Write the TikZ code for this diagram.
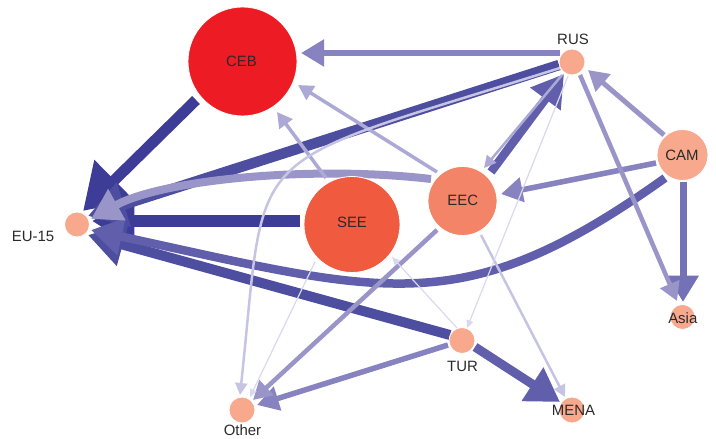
\documentclass[tikz,border=0pt]{standalone}
\usepackage{fontspec}
\setmainfont{Liberation Sans}
\usetikzlibrary{arrows.meta,calc,backgrounds}
\definecolor{cA}{HTML}{3D3D97}
\definecolor{cB}{HTML}{4E4EA0}
\definecolor{cC}{HTML}{615EAB}
\definecolor{cD}{HTML}{7471B6}
\definecolor{cE}{HTML}{8783C1}
\definecolor{cF}{HTML}{9995C9}
\definecolor{cG}{HTML}{ACA9D6}
\definecolor{cH}{HTML}{C6C4E3}
\definecolor{cI}{HTML}{DAD8EE}
\definecolor{nCEB}{HTML}{ED1C24}
\definecolor{nSEE}{HTML}{F05A3E}
\definecolor{nEEC}{HTML}{F48467}
\definecolor{nSm}{HTML}{F8A98D}
\definecolor{txt}{HTML}{2A2A2A}
\begin{document}
\begin{tikzpicture}[x=1bp,y=-1bp,
  nd/.style={circle,draw=white,line width=0.8bp,inner sep=0pt,fill=#1},
  lab/.style={font=\fontsize{15}{18}\selectfont,text=txt,inner sep=0pt,anchor=base},
  ed/.style={line width=#1,-{Triangle[length=4bp 3.2,width=2bp 4]}},
  bighead/.style={-{Triangle[length=44bp,width=54bp]}}]
\useasboundingbox (0,0) rectangle (716,439);
% nodes
\node[nd=nCEB,minimum size=109bp] (CEB) at (242.5,61.5) {};
\node[nd=nSEE,minimum size=96bp] (SEE) at (352,224.5) {};
\node[nd=nEEC,minimum size=69bp] (EEC) at (462.5,201) {};
\node[nd=nSm,minimum size=26bp] (RUS) at (572,62) {};
\node[nd=nSm,minimum size=51bp] (CAM) at (682.5,155) {};
\node[nd=nSm,minimum size=25bp] (EU) at (77,224.5) {};
\node[nd=nSm,minimum size=25bp] (Asia) at (682.5,317) {};
\node[nd=nSm,minimum size=26bp] (TUR) at (462,340.5) {};
\node[nd=nSm,minimum size=26bp] (MENA) at (572,410) {};
\node[nd=nSm,minimum size=26bp] (Other) at (242,410) {};
% labels
\node[lab] (CEBt) at (241.5,66.7) {CEB};
\node[lab] (SEEt) at (352,228) {SEE};
\node[lab] (EECt) at (462.7,206) {EEC};
\node[lab] (CAMt) at (682,160.7) {CAM};
\node[lab] (RUSt) at (573,45) {RUS};
\node[lab] (EUt) at (33,242) {EU-15};
\node[lab] (Asiat) at (682.8,324) {Asia};
\node[lab] (TURt) at (462.5,371) {TUR};
\node[lab] (MENAt) at (573.5,415) {MENA};
\node[lab] (Othert) at (242.5,435.5) {Other};
% edges
\begin{scope}[on background layer]
\draw[ed=11bp,cA,bighead] ($(CEB)+(-46.5,38.5)$) -- ($(EU)+(6,-13.5)$);
\draw[ed=12bp,cA] ($(SEE)+(-52,-3.5)$) -- ($(EU)+(15,-3.5)$);
\draw[ed=10.5bp,cB] ($(RUS)+(-13,3)$) -- ($(EU)+(11,-8.5)$);
\draw[ed=10bp,cB] ($(TUR)+(-12,-5.5)$) -- ($(EU)+(11,10.5)$);
\draw[ed=9bp,cC] ($(TUR)+(13,6.5)$) -- ($(MENA)+(-12,-8)$);
\draw[ed=8.5bp,cC] ($(EEC)+(28.5,-29)$) -- ($(RUS)+(-8,12)$);
\draw[ed=8.5bp,cC] ($(CAM)+(-17.5,23)$) .. controls (461.5,323) and (386.6,294) .. ($(EU)+(14,5.5)$);
\draw[ed=7bp,cD] ($(CAM)+(0.5,27)$) -- ($(Asia)+(0.5,-15)$);
\draw[ed=6bp,cE] ($(RUS)+(-12,-9)$) -- ($(CEB)+(58.5,-8.5)$);
\draw[ed=5.5bp,cE] ($(CAM)+(-26.5,8)$) -- ($(EEC)+(38.5,-7)$);
\draw[ed=5.5bp,cE] ($(TUR)+(-14,4.5)$) -- ($(Other)+(15,-5)$);
\draw[ed=8bp,cF] ($(EEC)+(-31.5,-22)$) .. controls (311.8,165) and (162.2,179.6) .. ($(EU)+(14,-5.5)$);
\draw[ed=5bp,cF] ($(CAM)+(-18.5,-20)$) -- ($(RUS)+(16,8)$);
\draw[ed=4.5bp,cF] ($(RUS)+(8,13)$) -- ($(Asia)+(-5.5,-16)$);
\draw[ed=4.5bp,cF] ($(EEC)+(-25.5,29)$) -- ($(Other)+(11,-10)$);
\draw[ed=3.5bp,cG] ($(EEC)+(-25.5,-29)$) -- ($(CEB)+(55.5,23.5)$);
\draw[ed=3.5bp,cG] ($(SEE)+(-26,-46.5)$) -- ($(CEB)+(34.5,50.5)$);
\draw[ed=2.5bp,cG] ($(RUS)+(-10,13)$) -- ($(EEC)+(21.5,-33)$);
\draw[ed=2.5bp,cH] ($(RUS)+(-12,6)$) .. controls (235.5,170.3) and (267.5,137.6) .. ($(Other)+(-2,-15)$);
\draw[ed=2.5bp,cH] ($(EEC)+(18.5,34)$) -- ($(MENA)+(-7,-13)$);
\draw[ed=1.2bp,cI] ($(RUS)+(-4,14)$) -- ($(TUR)+(5,-12.5)$);
\draw[ed=1.2bp,cI] ($(SEE)+(-37,37.5)$) -- ($(Other)+(8,-13)$);
\draw[ed=1.2bp,cI] ($(TUR)+(-5,-12.5)$) -- ($(SEE)+(40,32.5)$);
\end{scope}
\end{tikzpicture}
\end{document}
